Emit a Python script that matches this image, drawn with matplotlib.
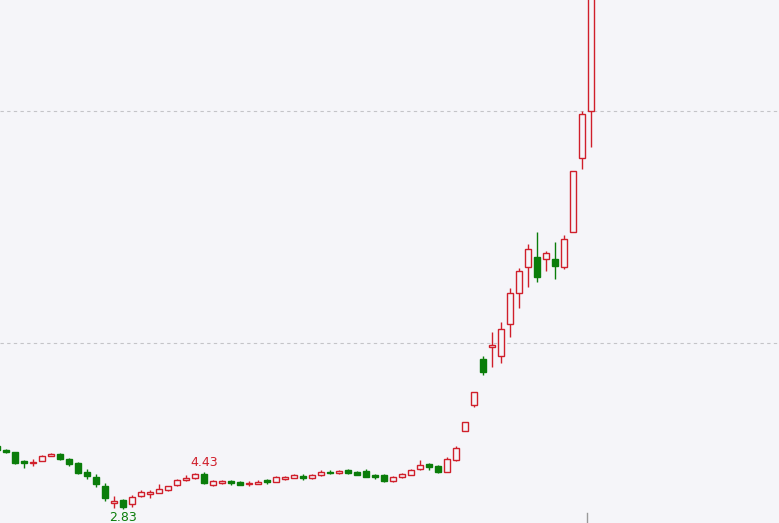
import matplotlib
matplotlib.use("Agg")
import matplotlib.pyplot as plt
from matplotlib.patches import Rectangle

# 日K线数据（从图上读取，估计值）
opens = [5.56, 5.39, 5.30, 4.91, 4.83, 4.93, 5.13, 5.23, 4.99, 4.84,
         4.43, 4.22, 3.85, 3.12, 3.23, 3.05, 3.41, 3.48, 3.55, 3.66,
         3.87, 4.11, 4.17, 4.35, 3.88, 3.98, 4.04, 4.00, 3.91, 3.94,
         4.08, 4.02, 4.14, 4.19, 4.28, 4.19, 4.30, 4.45, 4.40, 4.51,
         4.45, 4.48, 4.30, 4.30, 4.06, 4.24, 4.32, 4.58, 4.80, 4.70,
         4.45, 4.96, 6.22, 7.34, 9.32, 9.84, 9.43, 10.81, 12.14, 13.29,
         13.71, 13.61, 13.62, 13.29, 14.77, 17.96, 20.00]
closes = [5.39, 5.29, 4.83, 4.83, 4.89, 5.14, 5.23, 4.99, 4.80, 4.41,
          4.27, 3.91, 3.33, 3.18, 2.94, 3.35, 3.58, 3.59, 3.71, 3.82,
          4.08, 4.17, 4.35, 3.95, 4.05, 4.05, 3.97, 3.88, 3.98, 4.02,
          4.00, 4.22, 4.24, 4.30, 4.19, 4.31, 4.45, 4.38, 4.50, 4.41,
          4.32, 4.24, 4.21, 4.06, 4.22, 4.37, 4.53, 4.74, 4.64, 4.45,
          4.99, 5.46, 6.58, 7.88, 8.74, 9.91, 10.59, 12.14, 13.10, 14.04,
          12.86, 13.88, 13.33, 14.47, 17.41, 19.86, 25.50]
highs = [5.60, 5.43, 5.31, 4.96, 5.00, 5.17, 5.26, 5.26, 5.04, 4.87,
         4.56, 4.35, 3.98, 3.41, 3.28, 3.45, 3.66, 3.66, 3.94, 3.85,
         4.12, 4.30, 4.40, 4.43, 4.08, 4.10, 4.11, 4.03, 4.04, 4.08,
         4.15, 4.25, 4.28, 4.34, 4.35, 4.34, 4.51, 4.54, 4.53, 4.57,
         4.48, 4.57, 4.37, 4.34, 4.27, 4.41, 4.56, 4.96, 4.84, 4.73,
         5.10, 5.57, 6.58, 7.88, 9.44, 10.46, 10.92, 12.36, 13.22, 14.27,
         14.78, 13.98, 14.35, 14.66, 17.41, 20.00, 25.50]
lows = [5.34, 5.26, 4.78, 4.61, 4.70, 4.90, 5.12, 4.96, 4.70, 4.37,
        4.12, 3.81, 3.20, 2.90, 2.83, 2.94, 3.37, 3.33, 3.55, 3.63,
        3.84, 4.04, 4.14, 3.92, 3.85, 3.94, 3.89, 3.86, 3.85, 3.91,
        3.94, 4.00, 4.10, 4.17, 4.10, 4.12, 4.27, 4.34, 4.34, 4.35,
        4.31, 4.21, 4.14, 4.02, 4.02, 4.19, 4.30, 4.53, 4.53, 4.40,
        4.43, 4.93, 6.22, 7.25, 8.63, 8.98, 9.12, 10.27, 11.50, 12.43,
        12.62, 13.12, 12.77, 13.19, 14.77, 17.50, 18.46]

grid_levels = [10, 20]
# 标注: (K线序号, 文字)
high_mark = (23, "4.43")
low_mark = (14, "2.83")

UP = "#d01f2b"
DOWN = "#0a7d0a"
BG = "#f5f5f9"

fig = plt.figure(figsize=(7.79, 5.23), dpi=100)
fig.patch.set_facecolor(BG)
ax = fig.add_axes([0, 0, 1, 1])
ax.set_facecolor(BG)

for lvl in grid_levels:
    ax.axhline(lvl, color="#c4c4c8", lw=0.8, ls=(0, (3, 3)), zorder=1)

w = 0.72
for i, (o, c, h, l) in enumerate(zip(opens, closes, highs, lows)):
    up = c >= o
    col = UP if up else DOWN
    top, bot = max(o, c), min(o, c)
    ax.plot([i, i], [top, h], color=col, lw=1.0, zorder=2, solid_capstyle="butt")
    ax.plot([i, i], [l, bot], color=col, lw=1.0, zorder=2, solid_capstyle="butt")
    hgt = max(top - bot, 0.02)
    face = BG if up else col
    ax.add_patch(Rectangle((i - w / 2, bot), w, hgt, facecolor=face,
                           edgecolor=col, lw=1.0, zorder=3))

# 最高/最低价标注
hi, hi_txt = high_mark
lo, lo_txt = low_mark
ax.annotate(hi_txt, (hi, highs[hi]), xytext=(0, 2), textcoords="offset points",
            ha="center", va="bottom", color=UP, fontsize=9)
ax.annotate(lo_txt, (lo, lows[lo]), xytext=(0, -1), textcoords="offset points",
            ha="center", va="top", color=DOWN, fontsize=9)

ax.axvline(65.55, ymin=0, ymax=0.02, color="#9a9a9a", lw=1.0)

ax.set_xlim(0.333, 86.889)
ax.set_ylim(2.241, 24.784)
ax.axis("off")

fig.savefig("out.png", dpi=100, facecolor=BG)
